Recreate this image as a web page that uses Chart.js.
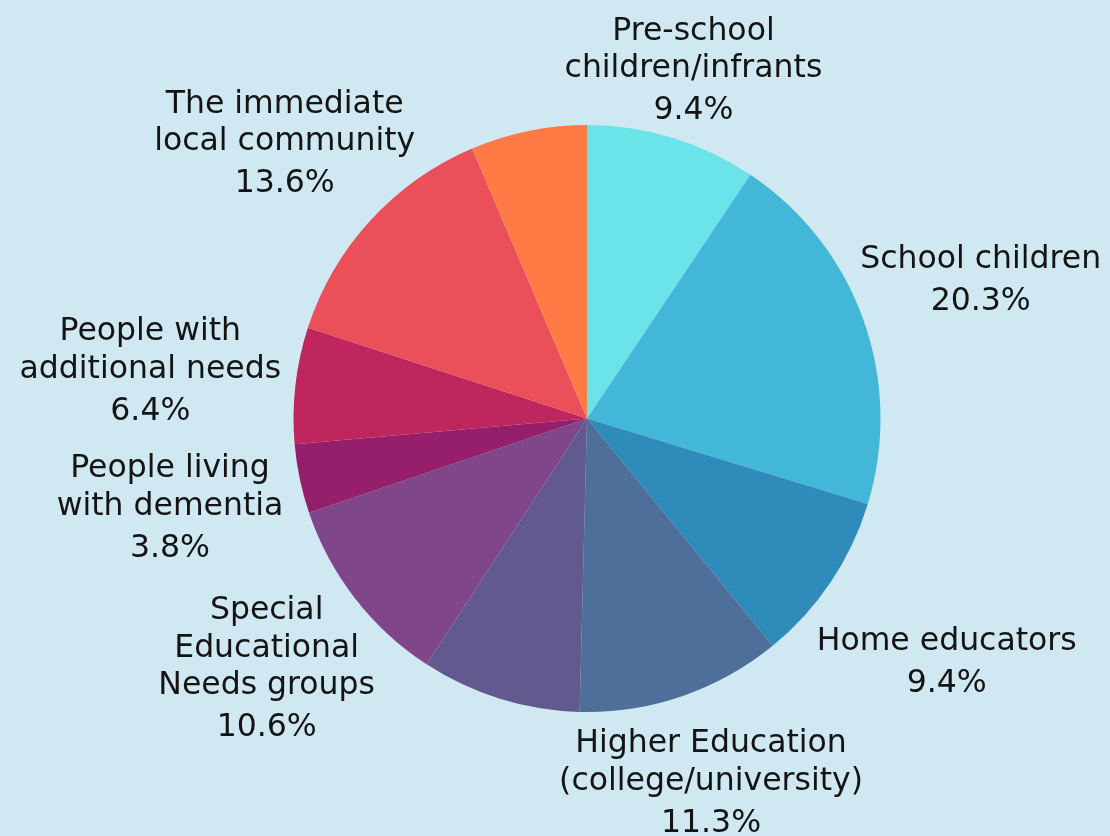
<!DOCTYPE html>
<html>
<head>
<meta charset="utf-8">
<script src="https://cdn.jsdelivr.net/npm/chart.js@4.4.0/dist/chart.umd.min.js"></script>
<style>
  html, body { margin: 0; padding: 0; background: #d0e8f1; }
  canvas { display: block; }
</style>
</head>
<body>
<canvas id="myChart" width="1110" height="836"></canvas>
<script>
// audience groups, clockwise from 12 o'clock
const categories = [
  ["Pre-school", "children/infrants"],
  ["School children"],
  ["Home educators"],
  ["Higher Education", "(college/university)"],
  ["Other"],
  ["Special", "Educational", "Needs groups"],
  ["People living", "with dementia"],
  ["People with", "additional needs"],
  ["The immediate", "local community"],
  ["Other groups"]
];
const shares = [9.4, 20.3, 9.4, 11.3, 8.8, 10.6, 3.8, 6.4, 13.6, 6.4];
const showLabel = [true, true, true, true, false, true, true, true, true, false];
const colors = [
  "#6ae4e8", "#42b7d7", "#2e8bba", "#4e6f99", "#625a8f",
  "#7f4689", "#951f6a", "#c0265e", "#eb4f59", "#ff7a45"
];

const FONT = "31.5px 'DejaVu Sans'";
const LINE_H = 37.5;   // between text lines
const PCT_GAP = 4.5;   // extra space above the percentage
const CAP_HALF = 11;
// small radial nudges so labels don't crowd the pie
const labelShift = [-9, -10, 9, 0, 0, -3, 0, 0, -6, 0];

// draws the multi-line labels outside each slice
const outsideLabels = {
  id: "outsideLabels",
  afterDatasetsDraw(chart) {
    const c = chart.ctx;
    const meta = chart.getDatasetMeta(0);
    c.save();
    c.font = FONT;
    c.fillStyle = "#141414";
    c.textAlign = "center";
    c.textBaseline = "alphabetic";
    meta.data.forEach((arc, i) => {
      if (!showLabel[i]) return;
      const p = arc.getProps(["x", "y", "startAngle", "endAngle", "outerRadius"], true);
      const mid = (p.startAngle + p.endAngle) / 2;
      const vx = Math.cos(mid), vy = Math.sin(mid);
      const lines = categories[i];
      const pct = shares[i].toFixed(1) + "%";
      const w = Math.max(...lines.concat([pct]).map(l => c.measureText(l).width));
      const d = p.outerRadius + 55 + 0.7 * Math.abs(vx) * w / 2 + labelShift[i];
      const cx = p.x + vx * d, cy = p.y + vy * d;
      const span = lines.length * LINE_H + PCT_GAP;
      let y = cy + CAP_HALF - span / 2;
      lines.forEach(l => {
        c.fillText(l, cx, y);
        y += LINE_H;
      });
      c.fillText(pct, cx, y + PCT_GAP);
    });
    c.restore();
  }
};

new Chart(document.getElementById("myChart"), {
  type: "pie",
  data: {
    labels: categories,
    datasets: [{
      data: shares,
      backgroundColor: colors,
      borderWidth: 0,
      hoverOffset: 0
    }]
  },
  options: {
    responsive: false,
    animation: false,
    layout: { padding: { left: 293, right: 229, top: 125, bottom: 124 } },
    plugins: {
      legend: { display: false },
      tooltip: { enabled: false }
    }
  },
  plugins: [outsideLabels]
});
</script>
</body>
</html>
